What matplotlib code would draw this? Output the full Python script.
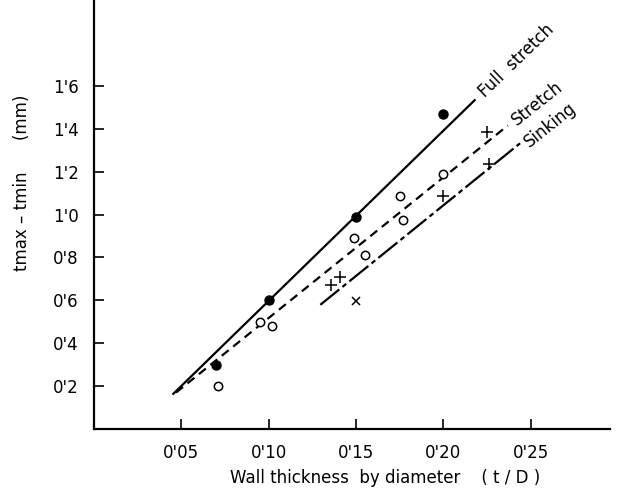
import numpy as np
import matplotlib
matplotlib.use("Agg")
from matplotlib import pyplot as plt

# full stretch (filled circles)
full_x = [0.07, 0.10, 0.15, 0.20]
full_y = [0.30, 0.60, 0.99, 1.47]

# stretch (open circles)
open_x = [0.071, 0.095, 0.102, 0.149, 0.155, 0.175, 0.177, 0.20]
open_y = [0.20, 0.50, 0.48, 0.89, 0.81, 1.085, 0.975, 1.19]

# crosses
plus_x = [0.136, 0.141, 0.20, 0.225, 0.226]
plus_y = [0.67, 0.71, 1.085, 1.385, 1.235]
cross_x = [0.15]
cross_y = [0.595]

# fitted lines (end points)
full_line_x = [0.0454, 0.218]
full_line_y = [0.164, 1.533]
stretch_line_x = [0.047, 0.237]
stretch_line_y = [0.17, 1.415]
sink_line_x = [0.1296, 0.244]
sink_line_y = [0.579, 1.332]

xticks = [0.05, 0.10, 0.15, 0.20, 0.25]
xticklabels = ["0'05", "0'10", "0'15", "0'20", "0'25"]
yticks = [0.2, 0.4, 0.6, 0.8, 1.0, 1.2, 1.4, 1.6]
yticklabels = ["0'2", "0'4", "0'6", "0'8", "1'0", "1'2", "1'4", "1'6"]

plt.rcParams['font.family'] = ['DejaVu Sans']
fs = 12

fig = plt.figure(figsize=(6.2, 4.97), dpi=100)
ax = fig.add_axes([94/620, 68/497, 516/620, 429/497])

ax.plot(full_line_x, full_line_y, color='black', lw=1.6)
ax.plot(stretch_line_x, stretch_line_y, color='black', lw=1.6, linestyle=(0, (4, 2.6)))
ax.plot(sink_line_x, sink_line_y, color='black', lw=1.6, linestyle=(0, (11, 1.8, 2.2, 1.8)))

ax.plot(full_x, full_y, 'o', color='black', ms=6.5)
ax.plot(open_x, open_y, 'o', mfc='white', mec='black', mew=1.1, ms=6)
ax.plot(plus_x, plus_y, '+', color='black', ms=8, mew=1.1)
ax.plot(cross_x, cross_y, 'x', color='black', ms=6, mew=1.1)

ax.text(0.222, 1.56, "Full  stretch", rotation=44, rotation_mode='anchor',
        ha='left', va='center', fontsize=fs)
ax.text(0.2405, 1.43, "Stretch", rotation=38.5, rotation_mode='anchor',
        ha='left', va='center', fontsize=fs)
ax.text(0.2475, 1.33, "Sinking", rotation=38.5, rotation_mode='anchor',
        ha='left', va='center', fontsize=fs)

ax.set_xlim(0, 0.2955)
ax.set_ylim(0, 2.0)
ax.set_xticks(xticks)
ax.set_xticklabels(xticklabels, fontsize=fs)
ax.set_yticks(yticks)
ax.set_yticklabels(yticklabels, fontsize=fs)
ax.tick_params(direction='in', length=7, width=1.2, pad=11)

for s in ['top', 'right']:
    ax.spines[s].set_visible(False)
for s in ['left', 'bottom']:
    ax.spines[s].set_linewidth(1.6)

fig.text(385/620, 1 - 478/497, "Wall thickness  by diameter    ( t / D )",
         ha='center', va='center', fontsize=fs)
fig.text(22/620, 1 - 183/497, "tmax \u2013 tmin      (mm)", rotation=90,
         ha='center', va='center', fontsize=fs)

fig.savefig("out.png", dpi=100)
